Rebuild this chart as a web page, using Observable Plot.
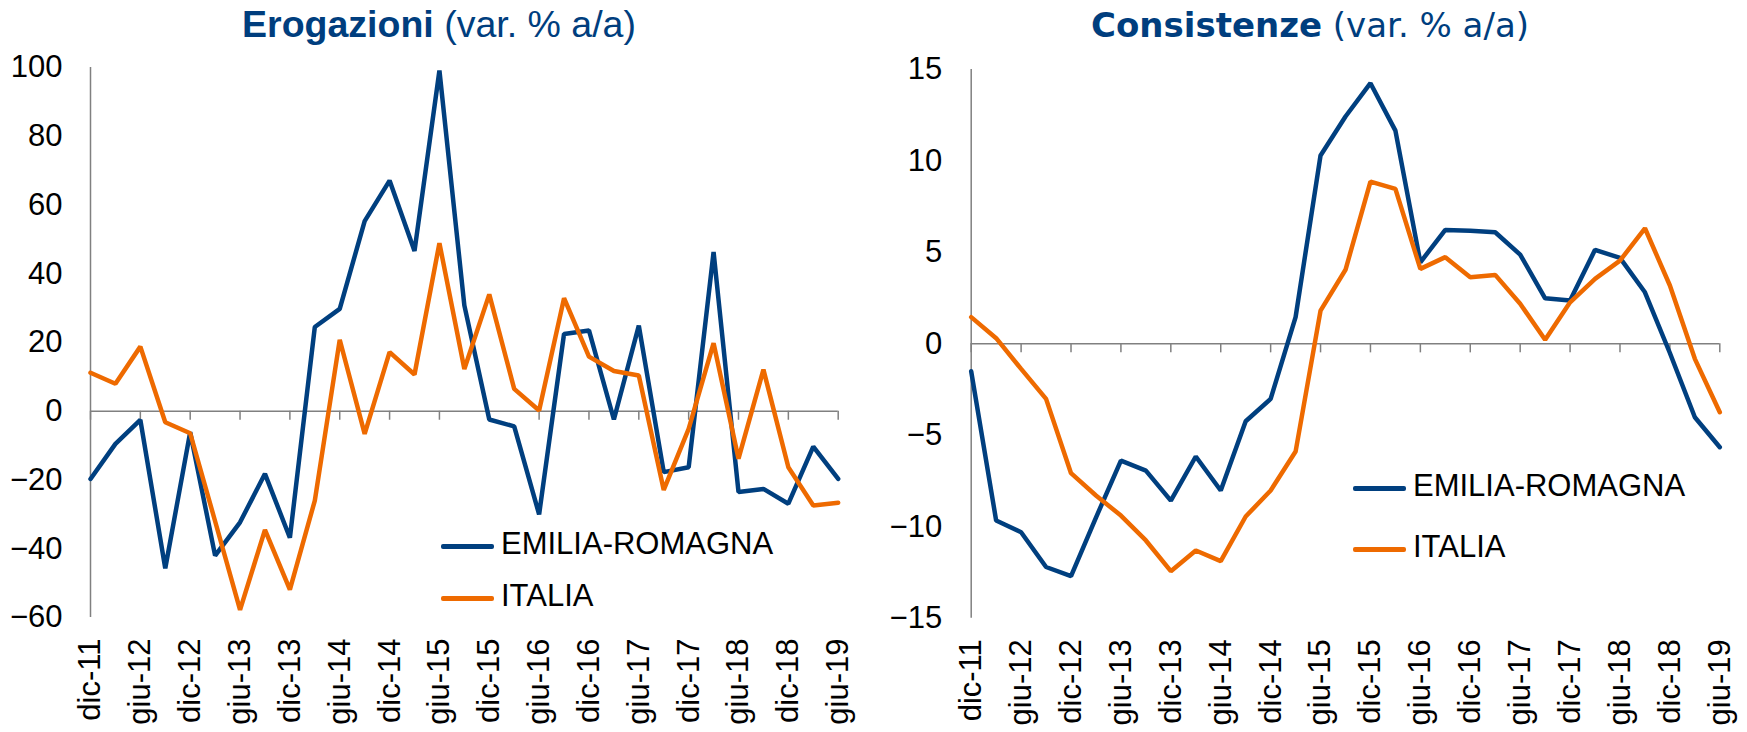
<!DOCTYPE html>
<html>
<head>
<meta charset="utf-8">
<script src="https://cdn.jsdelivr.net/npm/d3@7"></script>
<script src="https://cdn.jsdelivr.net/npm/@observablehq/plot@0.6"></script>
<style>
  html, body { margin: 0; padding: 0; background: #fff; }
  #wrap { position: relative; width: 1747px; height: 732px; overflow: hidden; background: #fff; }
  .panel { position: absolute; top: 50px; }
  .title { position: absolute; width: 700px; text-align: center; color: #003E7E; line-height: 1; white-space: nowrap; }
  .t1 { left: 89px; top: 6px; font-family: "Liberation Sans", Arial, sans-serif; font-size: 37.5px; }
  .t2 { left: 960px; top: 8px; font-family: "DejaVu Sans", sans-serif; font-size: 34px; }
  .title b { font-weight: bold; }
  .legend { position: absolute; font-family: "Liberation Sans", Arial, sans-serif; font-size: 31px; color: #000; }
  .legend .row { position: absolute; left: 0; white-space: nowrap; height: 0; }
  .legend .sw { position: absolute; left: 0; top: -2px; width: 53px; height: 4.5px; border-radius: 2px; }
  .legend .lb { position: absolute; left: 60px; top: -18px; line-height: 1; }
</style>
</head>
<body>
<div id="wrap">
  <div class="title t1"><b>Erogazioni</b> (var. % a/a)</div>
  <div class="title t2"><b>Consistenze</b> (var. % a/a)</div>
  <div id="p1" class="panel" style="left:0px; width:873px"></div>
  <div id="p2" class="panel" style="left:873px; width:874px"></div>
</div>
<script>
// Quarterly periods
const periods = [
  "dic-11","mar-12","giu-12","set-12","dic-12","mar-13","giu-13","set-13",
  "dic-13","mar-14","giu-14","set-14","dic-14","mar-15","giu-15","set-15",
  "dic-15","mar-16","giu-16","set-16","dic-16","mar-17","giu-17","set-17",
  "dic-17","mar-18","giu-18","set-18","dic-18","mar-19","giu-19"
];
const tickIndex = periods.map((d, i) => i).filter(i => i % 2 === 0);
const seriesNames = ["EMILIA-ROMAGNA", "ITALIA"];
const seriesColors = ["#003F7F", "#EE6A00"];

// Erogazioni (var. % a/a)
const erogER = [
  -19.7, -9.5, -2.5, -45.7, -6.1, -42.0, -32.3, -18.2, -36.8, 24.5, 29.8, 55.3, 67.1, 46.6, 99.1, 30.8,
  -2.4, -4.4, -30.0, 22.5, 23.5, -2.4, 24.9, -17.7, -16.3, 46.3, -23.5, -22.6, -26.9, -10.3, -19.7
];
const erogIT = [
  11.2, 8.0, 18.8, -3.2, -6.4, -32.0, -57.8, -34.5, -51.9, -26.0, 20.8, -6.6, 17.2, 10.7, 48.9, 12.3,
  34.0, 6.5, 0.2, 32.9, 15.9, 11.7, 10.4, -22.9, -5.1, 19.8, -13.8, 12.1, -16.3, -27.4, -26.6
];

// Consistenze (var. % a/a)
const consER = [
  -1.5, -9.66, -10.3, -12.2, -12.7, -9.5, -6.38, -6.93, -8.57, -6.16, -8.02, -4.23, -3.01, 1.46, 10.3, 12.43,
  14.25, 11.66, 4.46, 6.23, 6.19, 6.10, 4.88, 2.49, 2.37, 5.14, 4.70, 2.82, -0.5, -4.01, -5.65
];
const consIT = [
  1.46, 0.31, -1.37, -3.01, -7.07, -8.29, -9.39, -10.75, -12.43, -11.3, -11.88, -9.44, -8.02, -5.89, 1.82, 4.05,
  8.87, 8.47, 4.10, 4.74, 3.64, 3.77, 2.19, 0.22, 2.27, 3.55, 4.55, 6.32, 3.19, -0.82, -3.74
];

const erogTicks = [-60, -40, -20, 0, 20, 40, 60, 80, 100];
const consTicks = [-15, -10, -5, 0, 5, 10, 15];

function toRows(a, b) {
  return [
    ...periods.map((p, i) => ({idx: i, period: p, value: a[i], series: seriesNames[0]})),
    ...periods.map((p, i) => ({idx: i, period: p, value: b[i], series: seriesNames[1]}))
  ];
}

function makePanel({rows, yDomain, yTicks, width, marginLeft, marginRight, marginTop, marginBottom, yPad}) {
  return Plot.plot({
    width,
    height: 682,
    marginLeft, marginRight, marginTop, marginBottom,
    style: {fontFamily: "'Liberation Sans', Arial, sans-serif", fontSize: "31px", color: "#000", background: "transparent", overflow: "visible"},
    x: {
      type: "linear", domain: [0, periods.length - 1],
      ticks: tickIndex, tickFormat: i => periods[i],
      tickSize: 0, tickPadding: 21, tickRotate: -90, label: null
    },
    y: {
      domain: yDomain, ticks: yTicks, tickSize: 0, tickPadding: yPad, label: null
    },
    color: {domain: seriesNames, range: seriesColors},
    marks: [
      Plot.ruleY([0], {stroke: "#808080", strokeWidth: 1.5}),
      Plot.ruleX(tickIndex, {x: d => d, y1: 0, y2: 0, insetBottom: -9, stroke: "#808080", strokeWidth: 1.5}),
      Plot.ruleX([0], {stroke: "#808080", strokeWidth: 1.5}),
      Plot.line(rows, {x: "idx", y: "value", z: "series", stroke: "series", strokeWidth: 4.5, strokeLinejoin: "miter", strokeLinecap: "round"})
    ]
  });
}

document.getElementById("p1").appendChild(makePanel({
  rows: toRows(erogER, erogIT), yDomain: [-60, 100], yTicks: erogTicks,
  width: 873, marginLeft: 90, marginRight: 35.3, marginTop: 17, marginBottom: 115, yPad: 28
}));
document.getElementById("p2").appendChild(makePanel({
  rows: toRows(consER, consIT), yDomain: [-15, 15], yTicks: consTicks,
  width: 874, marginLeft: 97.7, marginRight: 27.7, marginTop: 19, marginBottom: 114.3, yPad: 29
}));

// Legends (HTML overlays)
function legend(left, top, gap) {
  const lg = document.createElement("div");
  lg.className = "legend";
  lg.style.left = left + "px";
  lg.style.top = top + "px";
  seriesNames.forEach((name, i) => {
    const row = document.createElement("div");
    row.className = "row";
    row.style.top = (i * gap) + "px";
    const sw = document.createElement("div");
    sw.className = "sw";
    sw.style.background = seriesColors[i];
    const lb = document.createElement("div");
    lb.className = "lb";
    lb.textContent = name;
    row.appendChild(sw); row.appendChild(lb);
    lg.appendChild(row);
  });
  document.getElementById("wrap").appendChild(lg);
}
legend(441, 546, 52);
legend(1353, 488, 61);
</script>
</body>
</html>
